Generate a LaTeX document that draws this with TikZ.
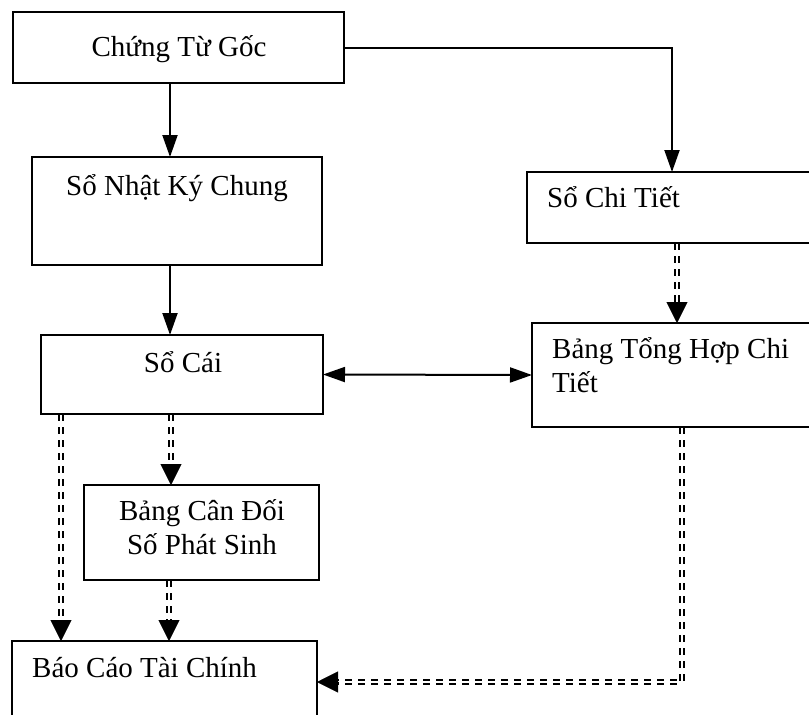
\documentclass[tikz,border=0pt]{standalone}
\usepackage{fontspec}
\setmainfont{Liberation Serif}
\usetikzlibrary{arrows.meta,calc,decorations.markings}
\begin{document}
\begin{tikzpicture}[x=1pt,y=-1pt,
  box/.style={draw, line width=2.2pt, rectangle, inner sep=0pt, outer sep=0pt},
  lbl/.style={inner sep=0pt, font=\fontsize{29}{34}\selectfont},
  solidarrow/.style={line width=2pt, -{Triangle[length=22pt,width=15pt]}},
  botharrow/.style={line width=2pt, {Triangle[length=22pt,width=15pt]}-{Triangle[length=22pt,width=15pt]}},
  % pair of parallel dashes repeated along the path
  dashdbl/.style={decorate, decoration={markings,
      mark=between positions 0 and 1 step 13pt with {
        \fill (0pt,0.7pt) rectangle (7pt,2.7pt);
        \fill (0pt,-0.7pt) rectangle (7pt,-2.7pt);}}},
  dtip/.style={line width=0.4pt, -{Triangle[length=21pt,width=21pt]}}]
\clip (0,0) rectangle (809,715);

% boxes
\node[box, minimum width=331pt, minimum height=71pt] (ctg) at (178.5,47.5) {};
\node[box, minimum width=290pt, minimum height=108pt] (snkc) at (177,211) {};
\node[box, minimum width=303pt, minimum height=71pt] (sct) at (678.5,207.5) {};
\node[box, minimum width=282pt, minimum height=79pt] (sc) at (182,374.5) {};
\node[box, minimum width=298pt, minimum height=104pt] (bth) at (681,375) {};
\node[box, minimum width=235pt, minimum height=95pt] (bcd) at (201.5,532.5) {};
\node[box, minimum width=305pt, minimum height=82pt] (bctc) at (164.5,682) {};

% labels
\node[lbl, anchor=base] (tctg) at (179,56) {Chứng Từ Gốc};
\node[lbl, anchor=base] (tsnkc) at (177,195) {Sổ Nhật Ký Chung};
\node[lbl, anchor=base west] (tsct) at (547,207) {Sổ Chi Tiết};
\node[lbl, anchor=base] (tsc) at (183,372) {Sổ Cái};
\node[lbl, anchor=base west] (tbth1) at (552,358) {Bảng Tổng Hợp Chi};
\node[lbl, anchor=base west] (tbth2) at (552,392) {Tiết};
\node[lbl, anchor=base] (tbcd1) at (202,520) {Bảng Cân Đối};
\node[lbl, anchor=base] (tbcd2) at (202,554) {Số Phát Sinh};
\node[lbl, anchor=base west] (tbctc) at (32,677) {Báo Cáo Tài Chính};

% connector columns
\coordinate (xa) at (170,0);
\coordinate (xb) at (672,0);
\coordinate (xc) at (677,0);
\coordinate (xd) at (171,0);
\coordinate (xe) at (61,0);
\coordinate (xf) at (169,0);
\coordinate (xg) at (682,0);

% solid connectors
\draw[solidarrow] (ctg.south -| xa) -- (snkc.north -| xa);
\draw[solidarrow] (ctg.east) -| (sct.north -| xb);
\draw[solidarrow] (snkc.south -| xa) -- (sc.north -| xa);
\draw[botharrow] (sc.east) -- (bth.west);

% double dashed connectors, each ending in a filled tip
\path[dashdbl] (sct.south -| xc) -- ($(bth.north -| xc)+(0,-20)$);
\draw[dtip] ($(bth.north -| xc)+(0,-21)$) -- (bth.north -| xc);

\path[dashdbl] (sc.south -| xd) -- ($(bcd.north -| xd)+(0,-20)$);
\draw[dtip] ($(bcd.north -| xd)+(0,-21)$) -- (bcd.north -| xd);

\path[dashdbl] (sc.south -| xe) -- ($(bctc.north -| xe)+(0,-20)$);
\draw[dtip] ($(bctc.north -| xe)+(0,-21)$) -- (bctc.north -| xe);

\path[dashdbl] (bcd.south -| xf) -- ($(bctc.north -| xf)+(0,-20)$);
\draw[dtip] ($(bctc.north -| xf)+(0,-21)$) -- (bctc.north -| xf);

\path[dashdbl] (bth.south -| xg) |- ($(bctc.east)+(20,0)$);
\draw[dtip] ($(bctc.east)+(21,0)$) -- (bctc.east);
\end{tikzpicture}
\end{document}
